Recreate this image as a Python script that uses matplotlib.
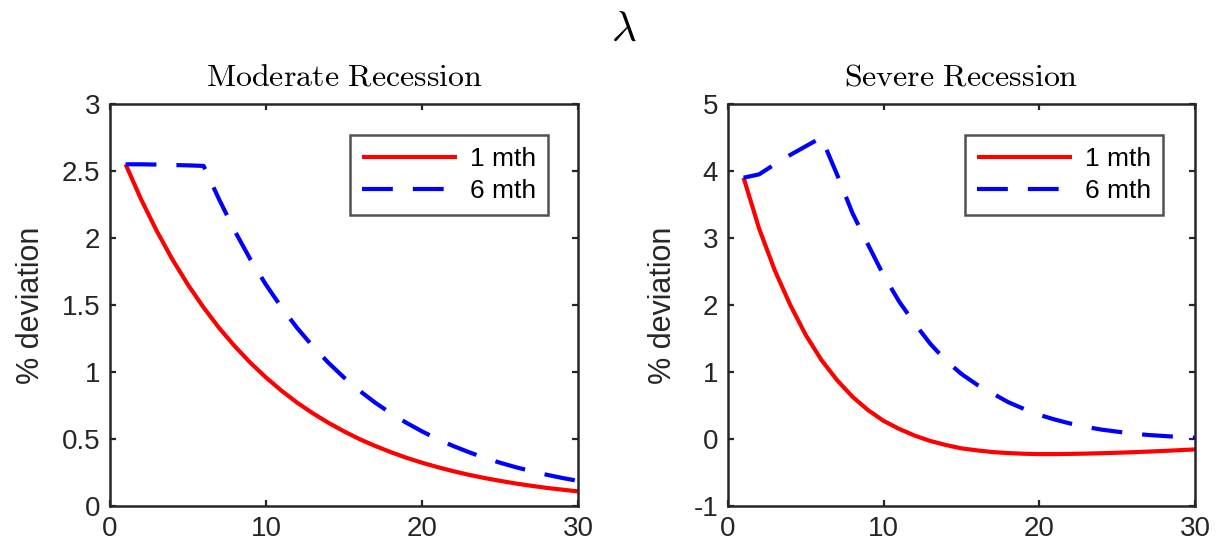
import matplotlib
matplotlib.use("Agg")
import matplotlib.pyplot as plt

plt.rcParams['font.family'] = ['Liberation Sans', 'DejaVu Sans']
plt.rcParams['mathtext.fontset'] = 'cm'

months = list(range(1, 31))

moderate_1mth = [2.550, 2.287, 2.052, 1.840, 1.651, 1.481, 1.328, 1.192, 1.069, 0.959,
                 0.860, 0.771, 0.692, 0.621, 0.557, 0.499, 0.448, 0.402, 0.360, 0.323,
                 0.290, 0.260, 0.233, 0.209, 0.188, 0.168, 0.151, 0.135, 0.122, 0.109]
moderate_6mth = [2.550, 2.550, 2.548, 2.545, 2.542, 2.538, 2.287, 2.052, 1.840, 1.651,
                 1.481, 1.328, 1.192, 1.069, 0.959, 0.860, 0.771, 0.692, 0.621, 0.557,
                 0.499, 0.448, 0.402, 0.360, 0.323, 0.290, 0.260, 0.233, 0.209, 0.188]

severe_1mth = [3.90, 3.14, 2.52, 2.00, 1.55, 1.18, 0.88, 0.63, 0.43, 0.27,
               0.15, 0.05, -0.03, -0.09, -0.14, -0.17, -0.195, -0.21, -0.22, -0.225,
               -0.225, -0.222, -0.218, -0.212, -0.205, -0.197, -0.188, -0.178, -0.167, -0.155]
severe_6mth = [3.90, 3.95, 4.10, 4.24, 4.37, 4.50, 3.95, 3.37, 2.90, 2.44,
               2.05, 1.72, 1.42, 1.17, 0.97, 0.81, 0.68, 0.55, 0.45, 0.36,
               0.29, 0.23, 0.18, 0.14, 0.11, 0.08, 0.06, 0.045, 0.03, 0.02]

titles = ["Moderate Recession", "Severe Recession"]
series_labels = ["1 mth", "6 mth"]
ylabel = "% deviation"
suptitle = r"$\lambda$"

fig = plt.figure(figsize=(12.25, 5.5), dpi=100)
ax1 = fig.add_axes([110/1225, 1-506/550, 468/1225, 402/550])
ax2 = fig.add_axes([728/1225, 1-506/550, 467/1225, 402/550])

edge = '#262626'
panels = [
    (ax1, moderate_1mth, moderate_6mth, (0, 3), [0, 0.5, 1, 1.5, 2, 2.5, 3], ["0", "0.5", "1", "1.5", "2", "2.5", "3"], 0.936),
    (ax2, severe_1mth, severe_6mth, (-1, 5), [-1, 0, 1, 2, 3, 4, 5], ["-1", "0", "1", "2", "3", "4", "5"], 0.931),
]

for i, (ax, s1, s6, ylim, yt, ytl, legx) in enumerate(panels):
    ax.plot(months, s1, color='#ff0000', lw=3.0, label=series_labels[0], solid_capstyle='butt')
    ax.plot(months, s6, color='#0000ff', lw=3.0, dashes=(7.4, 4.8), label=series_labels[1])
    ax.set_xlim(0, 30)
    ax.set_ylim(*ylim)
    ax.set_xticks([0, 10, 20, 30])
    ax.set_yticks(yt)
    ax.set_yticklabels(ytl)
    ax.tick_params(direction='in', length=4.5, width=1.6, colors=edge, labelsize=20,
                   top=True, right=True, pad=7, labelcolor=edge)
    for sp in ax.spines.values():
        sp.set_color(edge)
        sp.set_linewidth(1.8)
    ax.set_ylabel(ylabel, fontsize=22, color=edge, labelpad=11)
    ax.set_title(r"$\mathrm{" + titles[i].replace(" ", r"\ ") + "}$", fontsize=23, pad=13)
    leg = ax.legend(loc='upper right', bbox_to_anchor=(legx, 0.923), fontsize=19,
                    handlelength=3.6, frameon=True, fancybox=False, borderaxespad=0,
                    handletextpad=0.5, borderpad=0.45, labelspacing=0.3)
    leg.get_frame().set_edgecolor(edge)
    leg.get_frame().set_linewidth(1.8)

fig.text(0.509, 0.945, suptitle, fontsize=31, ha='center', va='center')

fig.savefig("out.png", dpi=100)
